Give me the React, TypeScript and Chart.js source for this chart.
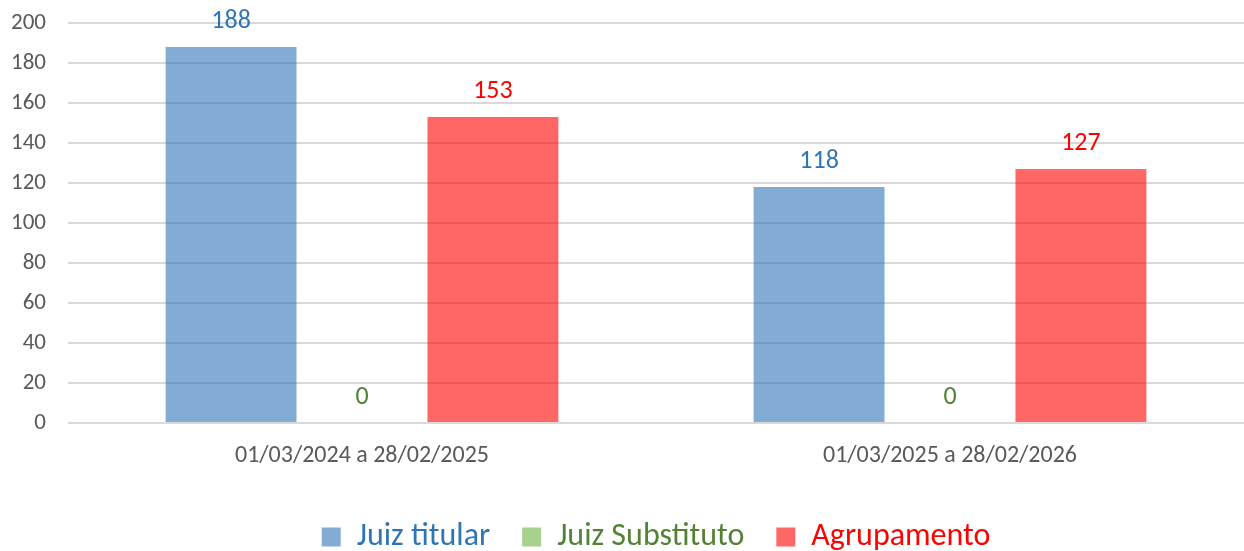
import React, { useEffect, useRef } from "react";
import { Chart, registerables } from "chart.js";

Chart.register(...registerables);

const categories = ["01/03/2024 a 28/02/2025", "01/03/2025 a 28/02/2026"];
const seriesNames = ["Juiz titular", "Juiz Substituto", "Agrupamento"];
const titularValues = [188, 118];
const substitutoValues = [0, 0];
const agrupamentoValues = [153, 127];
const fillColors = ["rgba(46,117,182,0.6)", "#A9D18E", "rgba(255,0,0,0.6)"];
const textColors = ["#2E75B6", "#548235", "#FF0000"];

const FONT = "Carlito, Calibri, 'Liberation Sans Narrow', 'Open Sans', sans-serif";

const labelPlugin = {
  id: "valueLabels",
  afterDatasetsDraw(chart: any) {
    const ctx = chart.ctx;
    ctx.save();
    chart.data.datasets.forEach((ds: any, i: number) => {
      const meta = chart.getDatasetMeta(i);
      meta.data.forEach((bar: any, j: number) => {
        ctx.font = `26px ${FONT}`;
        ctx.fillStyle = textColors[i];
        ctx.textAlign = "center";
        ctx.textBaseline = "middle";
        ctx.fillText(String(ds.data[j]), bar.x, bar.y - 26);
      });
    });
    ctx.restore();
  },
};

export default function App() {
  const ref = useRef<HTMLCanvasElement>(null);
  useEffect(() => {
    document.body.style.margin = "0";
    const chart = new Chart(ref.current!, {
      type: "bar",
      data: {
        labels: categories,
        datasets: [titularValues, substitutoValues, agrupamentoValues].map((d, i) => ({
          label: seriesNames[i],
          data: d,
          backgroundColor: fillColors[i],
          borderWidth: 0,
          barPercentage: 1,
          categoryPercentage: 0.668,
        })),
      },
      options: {
        animation: false,
        responsive: false,
        layout: { padding: { top: 23, right: 0, left: 0, bottom: 0 } },
        plugins: {
          tooltip: { enabled: false },
          legend: {
            position: "bottom",
            fullSize: false,
            maxHeight: 62,
            labels: {
              boxWidth: 19,
              boxHeight: 19,
              padding: 32,
              font: { size: 32, family: FONT },
              generateLabels: (chart: any) =>
                chart.data.datasets.map((ds: any, i: number) => ({
                  text: ds.label,
                  fillStyle: fillColors[i],
                  strokeStyle: fillColors[i],
                  lineWidth: 0,
                  fontColor: textColors[i],
                  datasetIndex: i,
                  hidden: false,
                })),
            },
          },
        },
        scales: {
          x: {
            grid: { display: false },
            border: { display: false },
            ticks: { color: "#595959", font: { size: 24, family: FONT }, padding: 11 },
            afterFit: (s: any) => { s.height = 66; },
          },
          y: {
            min: 0,
            max: 200,
            ticks: { stepSize: 20, color: "#595959", font: { size: 23, family: FONT }, padding: 22 },
            grid: { color: "#D9D9D9", lineWidth: 2, drawTicks: false },
            border: { display: false },
            afterFit: (s: any) => { s.width = 68; s.paddingTop = 0; s.paddingBottom = 0; },
          },
        },
      },
      plugins: [labelPlugin],
    } as any);
    return () => chart.destroy();
  }, []);
  return <canvas ref={ref} width={1244} height={551} style={{ display: "block" }} />;
}
